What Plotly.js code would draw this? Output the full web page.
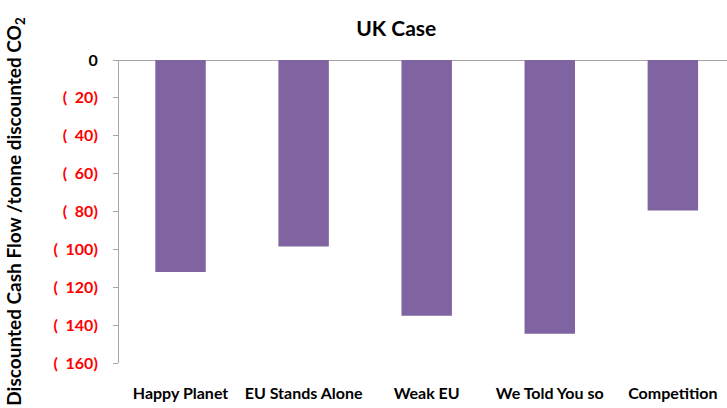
<!DOCTYPE html>
<html><head><meta charset="utf-8">
<script src="https://cdn.plot.ly/plotly-3.0.1.min.js"></script>
<style>html,body{margin:0;padding:0;background:#fff}#chart{width:727px;height:408px}</style>
</head><body><div id="chart"></div>
<script>
const categories = ["Happy Planet", "EU Stands Alone", "Weak EU", "We Told You so", "Competition"];
const values = [-112, -98.5, -135, -144.5, -79.5];
const tickValues = [0, -20, -40, -60, -80, -100, -120, -140, -160];
const tickLabels = ["<span style='fill:#000000'>0</span>", "(  20)", "(  40)", "(  60)", "(  80)", "(  100)", "(  120)", "(  140)", "(  160)"];

const font = "Lato, 'Open Sans', sans-serif";
Plotly.newPlot("chart", [{
  type: "bar",
  x: categories,
  y: values,
  width: 0.41,
  marker: {color: "#8064A2", line: {width: 0}},
  hoverinfo: "skip"
}], {
  width: 727, height: 408,
  margin: {l: 119, r: 0, t: 60, b: 45},
  paper_bgcolor: "#fff", plot_bgcolor: "#fff",
  showlegend: false,
  title: {text: "<b>UK Case</b>", font: {family: font, size: 21, color: "#000"}, x: 0.545, xanchor: "center", y: 0.93, yanchor: "middle"},
  xaxis: {
    range: [-0.5, 4.44], showline: false, showgrid: false, zeroline: false,
    ticks: "", ticklabelstandoff: 19,
    tickfont: {family: font, size: 16, color: "#000", weight: "bold"}
  },
  yaxis: {
    range: [-160, 0], tickvals: tickValues, ticktext: tickLabels,
    showline: true, linecolor: "#a6a6a6", linewidth: 1,
    ticks: "outside", ticklen: 5, tickcolor: "#a6a6a6",
    ticklabelstandoff: 12,
    showgrid: false, zeroline: true, zerolinecolor: "#a6a6a6", zerolinewidth: 1,
    tickfont: {family: font, size: 16, color: "#ff0000", weight: "bold"},
    title: {text: "<b>Discounted Cash Flow /tonne discounted CO<sub>2</sub></b>", font: {family: font, size: 19, color: "#000"}, standoff: 26}
  }
}, {staticPlot: true});
</script></body></html>
